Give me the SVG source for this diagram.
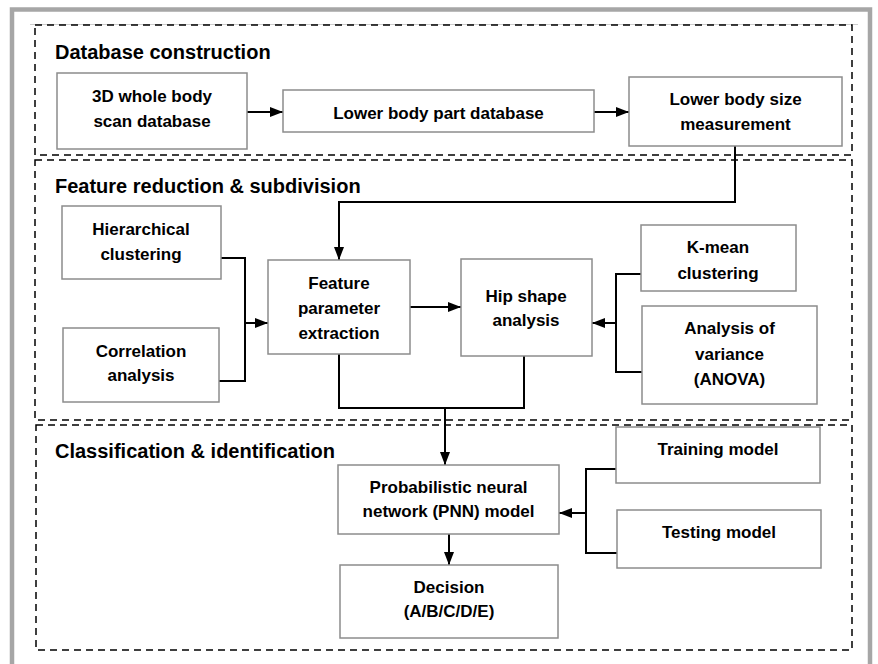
<svg xmlns="http://www.w3.org/2000/svg" width="878" height="664" viewBox="0 0 878 664">
<defs>
<style>
.frame{fill:none;stroke:#a6a6a6;stroke-width:4.5}
.sec{fill:none;stroke:#000;stroke-width:1.5;stroke-dasharray:7,5}
.box{fill:#fff;stroke:#8c8c8c;stroke-width:1.5}
.t{font-family:"Liberation Sans",Arial,sans-serif;font-weight:bold;font-size:17px;fill:#000;text-anchor:middle}
.h{font-family:"Liberation Sans",Arial,sans-serif;font-weight:bold;font-size:20px;fill:#000}
.c{fill:none;stroke:#000;stroke-width:2}
</style>
<marker id="ah" markerUnits="userSpaceOnUse" markerWidth="14" markerHeight="11" refX="13" refY="5" orient="auto">
<path d="M0,0 L13,5 L0,10 z" fill="#000"/>
</marker>
</defs>
<rect width="878" height="664" fill="#fff"/>
<rect class="frame" x="12" y="9.5" width="858" height="700"/>

<g id="sections">
<line x1="30" y1="24.5" x2="858" y2="24.5" stroke="#c0c0c0" stroke-width="0.8"/>
<rect class="sec" x="35" y="25" width="817" height="130"/>
<rect class="sec" x="35" y="160" width="817" height="260"/>
<rect class="sec" x="36" y="425" width="816" height="225"/>
<text class="h" x="55" y="59">Database construction</text>
<text class="h" x="55" y="193">Feature reduction &amp; subdivision</text>
<text class="h" x="55" y="458">Classification &amp; identification</text>
</g>

<g id="connectors">
<line class="c" x1="247" y1="112" x2="283" y2="112" marker-end="url(#ah)"/>
<line class="c" x1="594" y1="112" x2="629" y2="112" marker-end="url(#ah)"/>
<polyline class="c" points="735,146 735,202 339,202 339,260" marker-end="url(#ah)"/>
<polyline class="c" points="221,258 245,258 245,381 219,381"/>
<line class="c" x1="245" y1="323" x2="268" y2="323" marker-end="url(#ah)"/>
<line class="c" x1="410" y1="307" x2="461" y2="307" marker-end="url(#ah)"/>
<polyline class="c" points="641,274 616,274 616,372 642,372"/>
<line class="c" x1="616" y1="323" x2="592" y2="323" marker-end="url(#ah)"/>
<polyline class="c" points="339,354 339,408 524,408 524,356"/>
<line class="c" x1="445" y1="408" x2="445" y2="465" marker-end="url(#ah)"/>
<line class="c" x1="449" y1="534" x2="449" y2="565" marker-end="url(#ah)"/>
<polyline class="c" points="616,469 586,469 586,553 617,553"/>
<line class="c" x1="586" y1="513" x2="559" y2="513" marker-end="url(#ah)"/>
</g>

<g id="scan-db">
<rect class="box" x="57" y="73" width="190" height="76"/>
<text class="t" x="152" y="102">3D whole body</text>
<text class="t" x="152" y="127">scan database</text>
</g>
<g id="lower-db">
<rect class="box" x="283" y="90" width="311" height="42"/>
<text class="t" x="438.5" y="119">Lower body part database</text>
</g>
<g id="size-meas">
<rect class="box" x="629" y="77" width="213" height="69"/>
<text class="t" x="735.5" y="105">Lower body size</text>
<text class="t" x="735.5" y="130">measurement</text>
</g>
<g id="hier">
<rect class="box" x="62" y="206" width="159" height="73"/>
<text class="t" x="141" y="235">Hierarchical</text>
<text class="t" x="141" y="260">clustering</text>
</g>
<g id="corr">
<rect class="box" x="63" y="328" width="156" height="74"/>
<text class="t" x="141" y="357">Correlation</text>
<text class="t" x="141" y="381">analysis</text>
</g>
<g id="feature">
<rect class="box" x="268" y="260" width="142" height="94"/>
<text class="t" x="339" y="289">Feature</text>
<text class="t" x="339" y="314">parameter</text>
<text class="t" x="339" y="339">extraction</text>
</g>
<g id="hip">
<rect class="box" x="461" y="259" width="131" height="97"/>
<text class="t" x="526" y="302">Hip shape</text>
<text class="t" x="526" y="326">analysis</text>
</g>
<g id="kmean">
<rect class="box" x="641" y="225" width="155" height="66"/>
<text class="t" x="718" y="253">K-mean</text>
<text class="t" x="718" y="279">clustering</text>
</g>
<g id="anova">
<rect class="box" x="642" y="306" width="175" height="98"/>
<text class="t" x="729.5" y="334">Analysis of</text>
<text class="t" x="729.5" y="360">variance</text>
<text class="t" x="729.5" y="385">(ANOVA)</text>
</g>
<g id="pnn">
<rect class="box" x="338" y="465" width="221" height="69"/>
<text class="t" x="448.5" y="493">Probabilistic neural</text>
<text class="t" x="448.5" y="517">network (PNN) model</text>
</g>
<g id="decision">
<rect class="box" x="340" y="565" width="218" height="73"/>
<text class="t" x="449" y="593">Decision</text>
<text class="t" x="449" y="617">(A/B/C/D/E)</text>
</g>
<g id="training">
<rect class="box" x="616" y="427" width="204" height="56"/>
<text class="t" x="718" y="455">Training model</text>
</g>
<g id="testing">
<rect class="box" x="617" y="510" width="204" height="58"/>
<text class="t" x="719" y="538">Testing model</text>
</g>
</svg>
